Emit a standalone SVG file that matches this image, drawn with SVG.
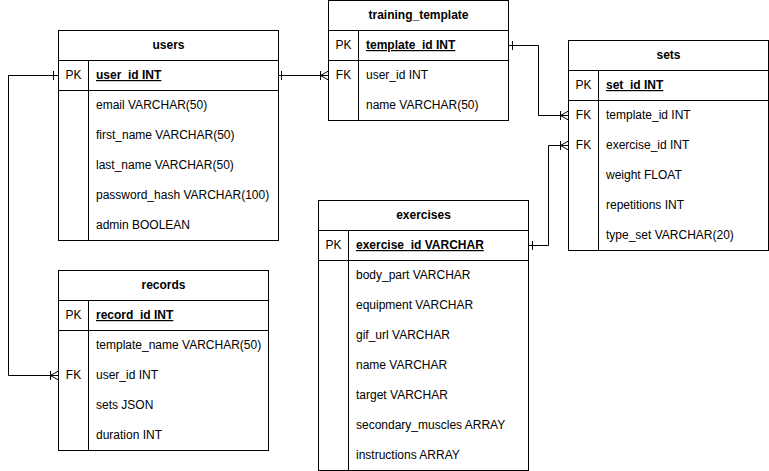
<svg xmlns="http://www.w3.org/2000/svg" width="769" height="471" viewBox="0 0 769 471">
<style>
.box{fill:#fff;stroke:#000;stroke-width:1}
.ln{stroke:#000;stroke-width:1;fill:none}
text{font-family:"Liberation Sans",Arial,sans-serif;font-size:12px;fill:#000}
.t{font-weight:bold;text-anchor:middle}
.k{text-anchor:middle}
.pk{font-weight:bold;text-decoration:underline}
</style>
<rect width="769" height="471" fill="#fff"/>
<g id="connectors">
  <path class="ln" d="M278.5 75.5 H328.5"/>
  <path class="ln" d="M281.5 71 V80"/>
  <path class="ln" d="M320.5 71 V80 M320.5 75.5 L328.5 71 M320.5 75.5 L328.5 80"/>
  <path class="ln" d="M58.5 75.5 H8.5 V375.5 H58.5"/>
  <path class="ln" d="M53.5 71 V80"/>
  <path class="ln" d="M50.5 371 V380 M50.5 375.5 L58.5 371 M50.5 375.5 L58.5 380"/>
  <path class="ln" d="M508.5 45.5 H538.5 V115.5 H568.5"/>
  <path class="ln" d="M512.5 41 V50"/>
  <path class="ln" d="M560.5 111 V120 M560.5 115.5 L568.5 111 M560.5 115.5 L568.5 120"/>
  <path class="ln" d="M528.5 245.5 H548.5 V145.5 H568.5"/>
  <path class="ln" d="M532.5 241 V250"/>
  <path class="ln" d="M560.5 141 V150 M560.5 145.5 L568.5 141 M560.5 145.5 L568.5 150"/>
</g>
<g id="users">
  <rect class="box" x="58.5" y="30.5" width="220" height="210"/>
  <path class="ln" d="M58.5 60.5 H278.5 M58.5 90.5 H278.5 M88.5 60.5 V240.5"/>
  <text class="t" x="168.5" y="49">users</text>
  <text class="k" x="73.5" y="79">PK</text>
  <text class="pk" x="96" y="79">user_id INT</text>
  <text x="96" y="109">email VARCHAR(50)</text>
  <text x="96" y="139">first_name VARCHAR(50)</text>
  <text x="96" y="169">last_name VARCHAR(50)</text>
  <text x="96" y="199">password_hash VARCHAR(100)</text>
  <text x="96" y="229">admin BOOLEAN</text>
</g>
<g id="training_template">
  <rect class="box" x="328.5" y="0.5" width="180" height="120"/>
  <path class="ln" d="M328.5 30.5 H508.5 M328.5 60.5 H508.5 M358.5 30.5 V120.5"/>
  <text class="t" x="418.5" y="19">training_template</text>
  <text class="k" x="343.5" y="49">PK</text>
  <text class="pk" x="366" y="49">template_id INT</text>
  <text class="k" x="343.5" y="79">FK</text>
  <text x="366" y="79">user_id INT</text>
  <text x="366" y="109">name VARCHAR(50)</text>
</g>
<g id="sets">
  <rect class="box" x="568.5" y="40.5" width="200" height="210"/>
  <path class="ln" d="M568.5 70.5 H768.5 M568.5 100.5 H768.5 M598.5 70.5 V250.5"/>
  <text class="t" x="668.5" y="59">sets</text>
  <text class="k" x="583.5" y="89">PK</text>
  <text class="pk" x="606" y="89">set_id INT</text>
  <text class="k" x="583.5" y="119">FK</text>
  <text x="606" y="119">template_id INT</text>
  <text class="k" x="583.5" y="149">FK</text>
  <text x="606" y="149">exercise_id INT</text>
  <text x="606" y="179">weight FLOAT</text>
  <text x="606" y="209">repetitions INT</text>
  <text x="606" y="239">type_set VARCHAR(20)</text>
</g>
<g id="exercises">
  <rect class="box" x="318.5" y="200.5" width="210" height="270"/>
  <path class="ln" d="M318.5 230.5 H528.5 M318.5 260.5 H528.5 M348.5 230.5 V470.5"/>
  <text class="t" x="423.5" y="219">exercises</text>
  <text class="k" x="333.5" y="249">PK</text>
  <text class="pk" x="356" y="249">exercise_id VARCHAR</text>
  <text x="356" y="279">body_part VARCHAR</text>
  <text x="356" y="309">equipment VARCHAR</text>
  <text x="356" y="339">gif_url VARCHAR</text>
  <text x="356" y="369">name VARCHAR</text>
  <text x="356" y="399">target VARCHAR</text>
  <text x="356" y="429">secondary_muscles ARRAY</text>
  <text x="356" y="459">instructions ARRAY</text>
</g>
<g id="records">
  <rect class="box" x="58.5" y="270.5" width="210" height="180"/>
  <path class="ln" d="M58.5 300.5 H268.5 M58.5 330.5 H268.5 M88.5 300.5 V450.5"/>
  <text class="t" x="163.5" y="289">records</text>
  <text class="k" x="73.5" y="319">PK</text>
  <text class="pk" x="96" y="319">record_id INT</text>
  <text x="96" y="349">template_name VARCHAR(50)</text>
  <text class="k" x="73.5" y="379">FK</text>
  <text x="96" y="379">user_id INT</text>
  <text x="96" y="409">sets JSON</text>
  <text x="96" y="439">duration INT</text>
</g>
</svg>
